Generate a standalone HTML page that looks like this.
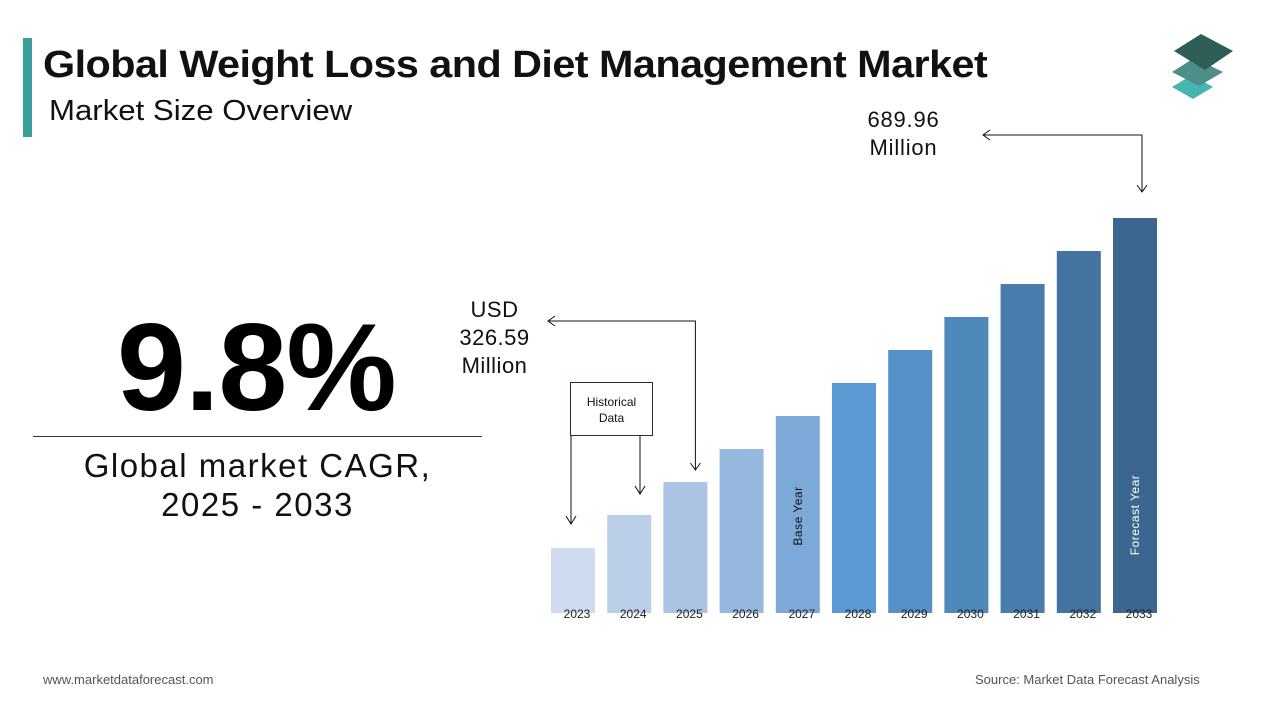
<!DOCTYPE html>
<html><head><meta charset="utf-8"><style>
body{margin:0;width:1280px;height:720px;background:#fff;font-family:"Liberation Sans",sans-serif;overflow:hidden;position:relative}
.a{position:absolute}
</style></head><body>
<div class="a" style="left:23px;top:38px;width:9px;height:99px;background:#3a9e9a"></div>
<div class="a" style="left:43px;top:44px;font-size:38px;font-weight:bold;color:#111;letter-spacing:-0.5px;transform:scaleX(1.088);transform-origin:0 0;white-space:nowrap">Global Weight Loss and Diet Management Market</div>
<div class="a" style="left:49px;top:95px;font-size:29px;color:#111;transform:scaleX(1.075);transform-origin:0 0;white-space:nowrap">Market Size Overview</div>
<svg class="a" style="left:1165px;top:30px" width="75" height="72" viewBox="0 0 75 72">
<polygon points="7,57 27,45 48,57 28,69" fill="#45b5b0"/>
<polygon points="7,42 29,28 58,42 34,56" fill="#4e8e89"/>
<polygon points="9,21 36,4 68,21 40,40" fill="#2f5d57"/>
</svg>
<div class="a" style="left:117px;top:297px;font-size:124px;font-weight:bold;color:#000;letter-spacing:-1px">9.8%</div>
<div class="a" style="left:33px;top:436px;width:449px;height:1px;background:#333"></div>
<div class="a" style="left:33px;top:446px;width:449px;text-align:center;font-size:33px;line-height:39px;color:#111;letter-spacing:1.5px">Global market CAGR,<br>2025 - 2033</div>
<div class="a" style="left:447px;top:296px;width:95px;text-align:center;font-size:22px;line-height:28px;color:#111;letter-spacing:0.5px">USD<br>326.59<br>Million</div>
<div class="a" style="left:856px;top:106px;width:95px;text-align:center;font-size:22px;line-height:28px;color:#111;letter-spacing:0.8px">689.96<br>Million</div>
<div class="a" style="left:570px;top:382px;width:83px;height:54px;border:1px solid #1f2d4d;box-sizing:border-box;font-size:12px;text-align:center;line-height:16px;padding-top:11px;color:#111">Historical<br>Data</div>
<svg class="a" id="chart" style="left:0;top:0" width="1280" height="720"></svg>
<div class="a" style="left:43px;top:672px;font-size:13px;color:#555">www.marketdataforecast.com</div>
<div class="a" style="left:975px;top:672px;font-size:13px;color:#555">Source: Market Data Forecast Analysis</div>
<script>
const years=["2023","2024","2025","2026","2027","2028","2029","2030","2031","2032","2033"];
const values=[65,98,131,164,197,230,263,296,329,362,395];
const colors=["#cfdcef","#bccfe9","#abc4e4","#96b8de","#7da9d8","#5b9ad5","#5590c8","#4f88bb","#4a7dad","#44739f","#3a668f"];
const NS="http://www.w3.org/2000/svg";
const svg=document.getElementById('chart');
const x0=551,step=56.2,bw=44,base=613,maxV=395,maxH=395;
const xs=i=>x0+i*step;
const ys=v=>base-v/maxV*maxH;
function mk(t,a){const e=document.createElementNS(NS,t);for(const k in a)e.setAttribute(k,a[k]);svg.appendChild(e);return e;}
years.forEach((y,i)=>{
 const r=mk('rect',{x:xs(i),y:ys(values[i]),width:bw,height:base-ys(values[i]),fill:colors[i]});
 
 
 const t=mk('text',{x:xs(i)+bw/2+4,y:base+5,'text-anchor':'middle','font-size':12,fill:'#222','font-family':'Liberation Sans, sans-serif'});
 t.textContent=y;
 
 
});
function vt(i,txt,col,cy){const cx=xs(i)+bw/2+4;const t=mk('text',{x:cx,y:cy,transform:`rotate(-90 ${cx} ${cy})`,'text-anchor':'middle','font-size':12,fill:col,'font-family':'Liberation Sans, sans-serif','letter-spacing':0.5});t.textContent=txt;return t;}
const b=vt(4,'Base Year','#111',516);


const f=vt(10,'Forecast Year','#fff',515);


const st={stroke:'#111','stroke-width':1,fill:'none'};
function line(d,name){const p=mk('path',Object.assign({d:d},st));}
const c25=xs(2)+bw/2+10, c33=xs(10)+bw/2+7;
line(`M${c25} ${ys(values[2])-12} V321 H548 M555 316 L548 321 L555 326 M${c25-5} ${ys(values[2])-19} L${c25} ${ys(values[2])-12} L${c25+5} ${ys(values[2])-19}`,'start-value-arrow');
line(`M${c33} ${ys(values[10])-26} V135 H983 M990 130 L983 135 L990 140 M${c33-5} ${ys(values[10])-33} L${c33} ${ys(values[10])-26} L${c33+5} ${ys(values[10])-33}`,'end-value-arrow');
line(`M571 436 V524 M566 516 L571 524 L576 516`,'historical-arrow-2023');
line(`M640 436 V494 M635 486 L640 494 L645 486`,'historical-arrow-2024');
</script>
</body></html>
